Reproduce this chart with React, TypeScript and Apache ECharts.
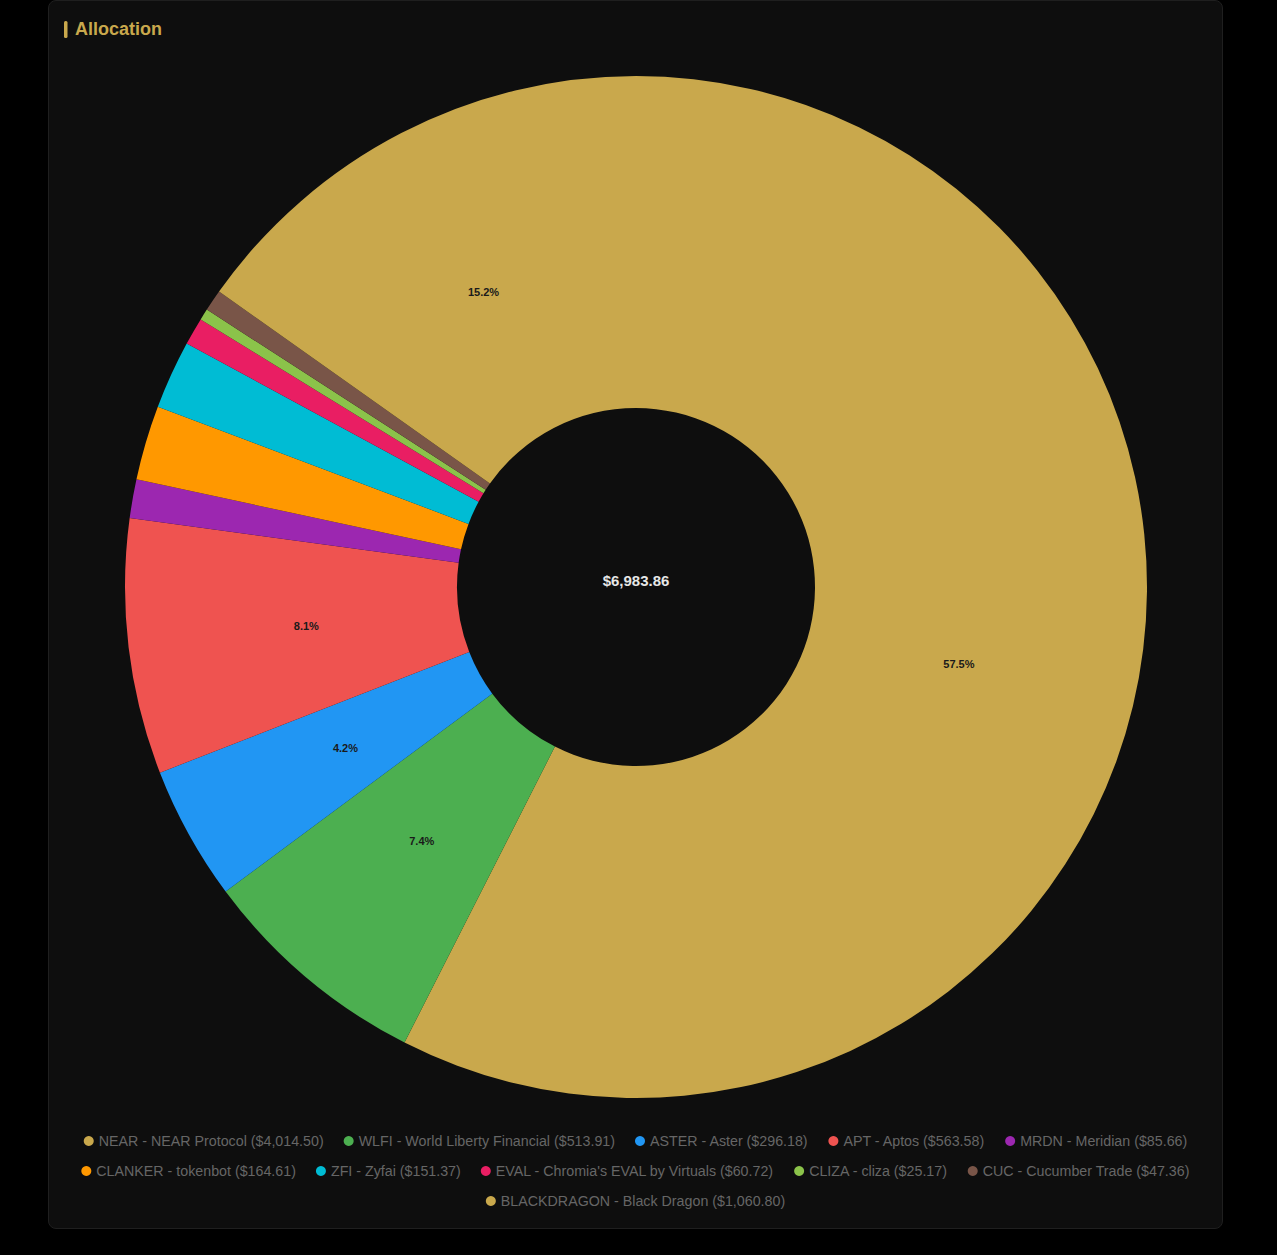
import React, { useEffect, useRef } from "react";
import * as echarts from "echarts";

const symbols = ["NEAR", "WLFI", "ASTER", "APT", "MRDN", "CLANKER", "ZFI", "EVAL", "CLIZA", "CUC", "BLACKDRAGON"];
const names = [
  "NEAR Protocol",
  "World Liberty Financial",
  "Aster",
  "Aptos",
  "Meridian",
  "tokenbot",
  "Zyfai",
  "Chromia's EVAL by Virtuals",
  "cliza",
  "Cucumber Trade",
  "Black Dragon",
];
const values = [4014.5, 513.91, 296.18, 563.58, 85.66, 164.61, 151.37, 60.72, 25.17, 47.36, 1060.8];
const colors = ["#c9a84c", "#4caf50", "#2196f3", "#ef5350", "#9c27b0", "#ff9800", "#00bcd4", "#e91e63", "#8bc34a", "#795548", "#c9a84c"];
// legend rows (indices into the arrays above)
const legendRows = [
  [0, 1, 2, 3, 4],
  [5, 6, 7, 8, 9],
  [10],
];

const FONT = "Arial, 'Liberation Sans', Helvetica, sans-serif";

const fmt = (v: number) =>
  "$" + v.toLocaleString("en-US", { minimumFractionDigits: 2, maximumFractionDigits: 2 });

export default function App() {
  const ref = useRef<HTMLDivElement>(null);

  useEffect(() => {
    if (!ref.current) return;
    const chart = echarts.init(ref.current, undefined, { renderer: "svg" });
    const total = values.reduce((a, b) => a + b, 0);
    const fullNames = symbols.map((s, i) => `${s} - ${names[i]}`);
    const data = fullNames.map((n, i) => ({
      name: n,
      value: values[i],
      itemStyle: { color: colors[i] },
    }));
    const valueByName: Record<string, number> = {};
    data.forEach((d) => (valueByName[d.name] = d.value));

    const legends = legendRows.map((row, r) => ({
      top: 1133 + r * 30,
      left: "center",
      padding: 0,
      icon: "circle",
      itemWidth: 10,
      itemHeight: 10,
      itemGap: 20,
      selectedMode: false,
      data: row.map((i) => fullNames[i]),
      textStyle: { color: "#666", fontSize: 14.25, fontFamily: FONT },
      formatter: (n: string) => `${n} (${fmt(valueByName[n])})`,
    }));

    chart.setOption({
      animation: false,
      backgroundColor: "transparent",
      title: {
        text: "Allocation",
        left: 26,
        top: 19,
        textStyle: { color: "#c9a84c", fontSize: 18, fontWeight: "bold", fontFamily: FONT },
        padding: 0,
      },
      graphic: [
        {
          type: "rect",
          shape: { x: 15, y: 20, width: 3.5, height: 17, r: 1.5 },
          style: { fill: "#c9a84c" },
        },
        {
          type: "text",
          x: 587,
          y: 579,
          style: {
            text: fmt(total),
            fill: "#e6e6e6",
            font: `bold 15px ${FONT}`,
            align: "center",
            verticalAlign: "middle",
          },
        },
      ],
      legend: legends,
      series: [
        {
          type: "pie",
          center: [587, 586],
          radius: [179, 511],
          startAngle: 90,
          clockwise: true,
          avoidLabelOverlap: false,
          itemStyle: { borderWidth: 0 },
          label: { show: false },
          labelLine: { show: false },
          emphasis: { disabled: true },
          data,
        },
        {
          // label-only overlay, places percentages at the reference's radius
          type: "pie",
          center: [587, 586],
          radius: [147, 511],
          startAngle: 90,
          clockwise: true,
          silent: true,
          avoidLabelOverlap: false,
          itemStyle: { color: "transparent", borderWidth: 0 },
          label: {
            show: true,
            position: "inside",
            color: "#1a1a1a",
            fontSize: 11,
            fontWeight: "bold",
            fontFamily: FONT,
            formatter: (p: any) => (p.percent >= 3 ? p.percent.toFixed(1) + "%" : ""),
          },
          labelLine: { show: false },
          emphasis: { disabled: true },
          data: fullNames.map((n, i) => ({ name: n, value: values[i], itemStyle: { color: "transparent" } })),
        },
      ],
    });
    return () => chart.dispose();
  }, []);

  return (
    <div style={{ position: "fixed", left: 0, top: 0, width: 1277, height: 1255, background: "#000", margin: 0 }}>
      <div
        style={{
          position: "absolute",
          left: 48,
          top: 0,
          width: 1175,
          height: 1229,
          boxSizing: "border-box",
          background: "#0e0e0e",
          border: "1px solid #1f1f1f",
          borderRadius: 8,
        }}
      >
        <div ref={ref} style={{ position: "absolute", left: 0, top: 0, width: 1173, height: 1227 }} />
      </div>
    </div>
  );
}
